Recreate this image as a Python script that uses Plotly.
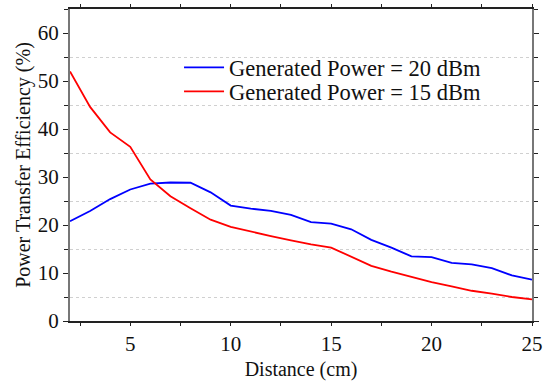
import plotly.graph_objects as go

distance = list(range(2, 26))
eff_20dbm = [20.8, 22.9, 25.4, 27.4, 28.6, 28.85, 28.8, 26.8, 24.05, 23.4, 22.95, 22.1, 20.6, 20.3,
             19.1, 16.9, 15.3, 13.45, 13.3, 12.1, 11.8, 11.0, 9.5, 8.6]
eff_15dbm = [52.0, 44.6, 39.3, 36.3, 29.5, 26.0, 23.5, 21.1, 19.6, 18.6, 17.7, 16.8, 15.95, 15.3,
             13.45, 11.5, 10.3, 9.15, 8.1, 7.2, 6.3, 5.7, 5.0, 4.5]
series_names = ["Generated Power = 20 dBm", "Generated Power = 15 dBm"]
x_ticks = [5, 10, 15, 20, 25]
y_ticks = [0, 10, 20, 30, 40, 50, 60]

FONT = "Liberation Serif, Times New Roman, serif"

fig = go.Figure()
fig.add_trace(go.Scatter(x=distance, y=eff_20dbm, mode="lines", name=series_names[0],
                         line=dict(color="#0000ff", width=1.8), legend="legend"))
fig.add_trace(go.Scatter(x=distance, y=eff_15dbm, mode="lines", name=series_names[1],
                         line=dict(color="#ff0000", width=1.8), legend="legend2"))

leg_common = dict(xanchor="left", yanchor="middle", bgcolor="rgba(0,0,0,0)",
                  font=dict(family=FONT, size=22.5, color="#111"), itemwidth=40)

fig.update_layout(
    width=547, height=381,
    margin=dict(l=70, r=15, t=9, b=60),
    paper_bgcolor="white", plot_bgcolor="white",
    font=dict(family=FONT, size=18, color="#111"),
    showlegend=True,
    legend=dict(x=0.236, y=0.812, **leg_common),
    legend2=dict(x=0.236, y=0.735, **leg_common),
    xaxis=dict(
        range=[2, 25], tickvals=x_ticks, showgrid=False, zeroline=False, automargin=False,
        showline=True, linecolor="#222", linewidth=1.5, mirror="ticks",
        ticks="outside", ticklen=3, tickcolor="#222",
        minor=dict(dtick=2.5, tick0=2.5, ticks="outside", ticklen=3, tickcolor="#222"),
        title=dict(text="Distance (cm)", font=dict(family=FONT, size=20), standoff=10),
        tickfont=dict(family=FONT, size=21),
    ),
    yaxis=dict(
        range=[0, 65], tickvals=y_ticks, showgrid=False, zeroline=False, automargin=False,
        showline=True, linecolor="#777", linewidth=2, mirror="ticks",
        ticks="outside", ticklen=5, tickcolor="#222",
        minor=dict(tick0=5, dtick=10, ticks="outside", ticklen=4, tickcolor="#222",
                   showgrid=True, gridcolor="#d0d0d0", griddash="dot", gridwidth=1),
        title=dict(text="Power Transfer Efficiency (%)", font=dict(family=FONT, size=20), standoff=2),
        tickfont=dict(family=FONT, size=21),
    ),
)

fig.write_html("out.html")
